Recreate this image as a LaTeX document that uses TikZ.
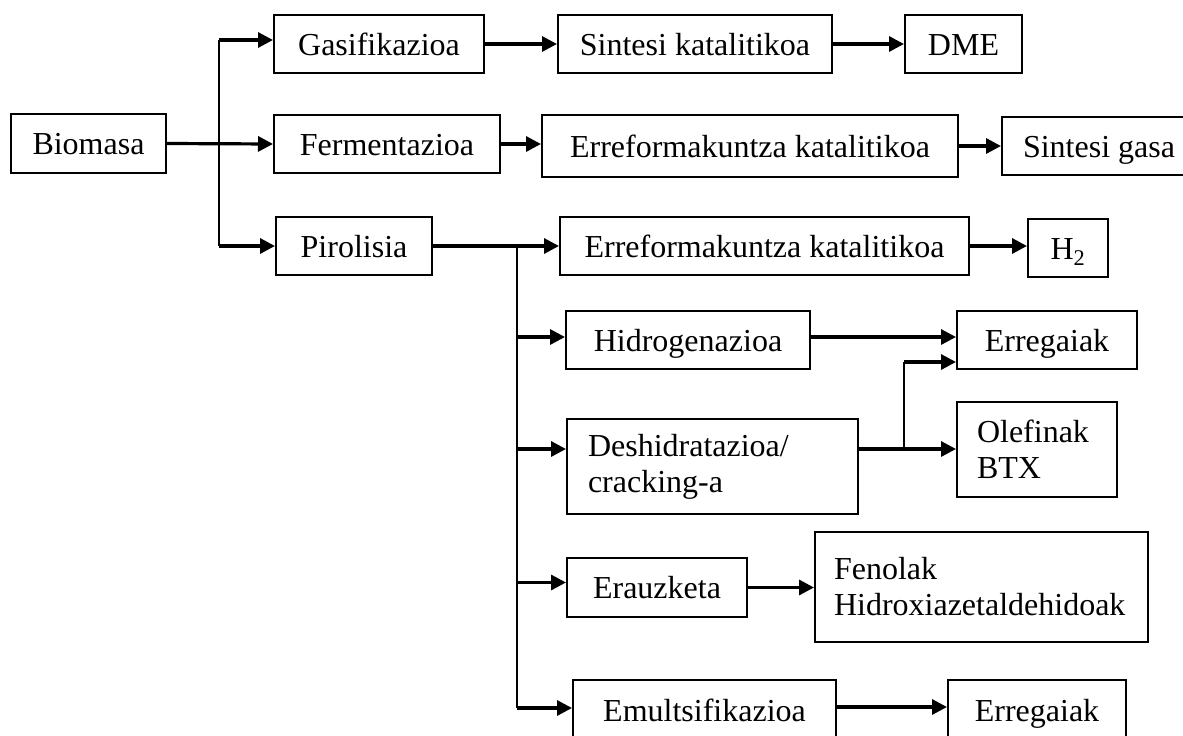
\documentclass[tikz,border=0pt]{standalone}
\usepackage{fontspec}
\setmainfont{Liberation Serif}
\usetikzlibrary{arrows.meta}

\begin{document}
\begin{tikzpicture}[x=1pt, y=-1pt,
		font=\fontsize{32}{36}\selectfont,
		box/.style={draw, line width=2pt, inner sep=0pt},
		sbox/.style={box, text height=22pt, text depth=0pt},
		lbox/.style={box, align=left, text width=#1},
		arr/.style={line width=3.2pt, -{Triangle[length=15pt,width=15pt]}},
		vline/.style={line width=1.7pt}]
			\useasboundingbox[fill=white] (0,0) rectangle (1183,736);
			% first column
			\node[sbox, minimum width=155pt, minimum height=59pt] (bio) at (88.5,143.5) {Biomasa};
			\node[sbox, minimum width=210pt, minimum height=58pt] (gas) at (379,44) {Gasifikazioa};
			\node[sbox, minimum width=226pt, minimum height=58pt] (ferm) at (387,144) {Fermentazioa};
			\node[sbox, minimum width=156pt, minimum height=58pt] (piro) at (354,246) {Pirolisia};
			% upper rows
			\node[sbox, minimum width=274pt, minimum height=58pt] (sint) at (695,44) {Sintesi katalitikoa};
			\node[sbox, minimum width=117pt, minimum height=58pt] (dme) at (963.5,44) {DME};
			\node[sbox, minimum width=416pt, minimum height=62pt] (erref1) at (750,146) {Erreformakuntza katalitikoa};
			\node[sbox, minimum width=194pt, minimum height=58pt] (sgas) at (1099,146) {Sintesi gasa};
			\node[sbox, minimum width=409pt, minimum height=58pt] (erref2) at (764.5,246) {Erreformakuntza katalitikoa};
			\node[sbox, minimum width=80pt, minimum height=58pt] (h2) at (1068,248) {H\textsubscript{2}};
			% pirolisia branches
			\node[sbox, minimum width=244pt, minimum height=58pt] (hid) at (688,340) {Hidrogenazioa};
			\node[sbox, minimum width=180pt, minimum height=58pt] (erreg1) at (1047,340) {Erregaiak};
			\node[lbox=249pt, inner xsep=21pt, minimum height=95pt] (desh) at (712.5,466.5) {Deshidratazioa/\\cracking-a};
			\node[lbox=120pt, inner xsep=20pt, minimum height=95pt] (olef) at (1037,449.5) {Olefinak\\BTX};
			\node[sbox, minimum width=180pt, minimum height=59pt] (erauz) at (657,587.5) {Erauzketa};
			\node[lbox=295pt, inner xsep=19pt, minimum height=110pt] (fenol) at (981.5,587) {Fenolak\\Hidroxiazetaldehidoak\\[10pt]};
			\node[sbox, minimum width=263pt, minimum height=60pt] (emul) at (704.5,710) {Emultsifikazioa};
			\node[sbox, minimum width=178pt, minimum height=60pt] (erreg2) at (1037,710) {Erregaiak};
			% split points
			\coordinate (bsplit) at (219,144);
			\coordinate (psplit) at (517,245);
			\coordinate (dsplit) at (904,449);
			% biomasa
			\draw[arr] (bio.east) -- (ferm.west);
			\draw[vline] ([yshift=4pt]bsplit |- gas.west) -- (bsplit |- piro.west);
			\draw[arr] ([yshift=4pt]bsplit |- gas.west) -- ([yshift=4pt]gas.west);
			\draw[arr] (bsplit |- piro.west) -- (piro.west);
			\draw[arr] (gas) -- (sint);
			\draw[arr] (sint) -- (dme);
			\draw[arr] (ferm.east) -- (ferm.east -| erref1.west);
			\draw[arr] (erref1.east) -- (erref1.east -| sgas.west);
			% pirolisia
			\draw[arr] (piro.east) -- (piro.east -| erref2.west);
			\draw[arr] (erref2.east) -- (erref2.east -| h2.west);
			\draw[vline] (psplit) -- ([yshift=2pt]psplit |- emul.west);
			\draw[arr] ([yshift=3pt]psplit |- hid.west) -- ([yshift=3pt]hid.west);
			\draw[arr] ([yshift=17.5pt]psplit |- desh.west) -- ([yshift=17.5pt]desh.west);
			\draw[arr] ([yshift=5pt]psplit |- erauz.west) -- ([yshift=5pt]erauz.west);
			\draw[arr] ([yshift=2pt]psplit |- emul.west) -- ([yshift=2pt]emul.west);
			\draw[arr] ([yshift=3pt]hid.east) -- ([yshift=3pt]hid.east -| erreg1.west);
			\draw[arr] ([yshift=17.5pt]desh.east) -- (dsplit) -- (dsplit -| olef.west);
			\draw[vline] (dsplit) -- ([yshift=-22pt]dsplit |- erreg1.west);
			\draw[arr] ([yshift=-22pt]dsplit |- erreg1.west) -- ([yshift=-22pt]erreg1.west);
			\draw[arr] (erauz.east) -- (erauz.east -| fenol.west);
			\draw[arr] ([yshift=3pt]emul.east) -- ([yshift=3pt]emul.east -| erreg2.west);
		\end{tikzpicture}
\end{document}
